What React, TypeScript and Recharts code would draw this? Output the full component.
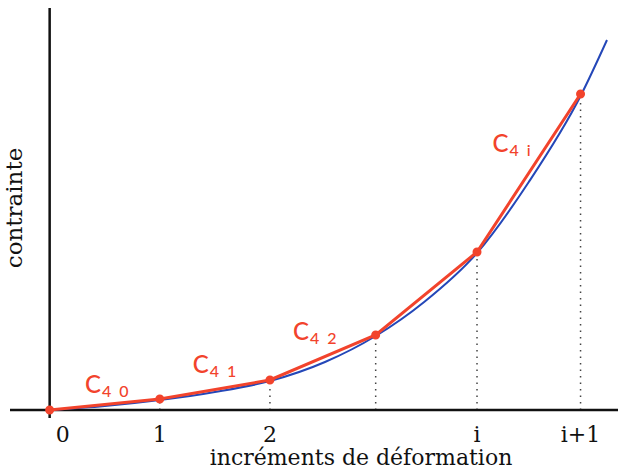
import { LineChart, Line, XAxis, YAxis, ReferenceLine, ReferenceDot } from 'recharts'

// red chord points (increment index -> stress)
const increments = [0, 1, 2, 2.96, 3.88, 4.82]
const stress = [0, 11, 30, 75, 158, 316]

// blue reference curve
const curveX = [0, 0.5, 1, 1.5, 2, 2.5, 2.96, 3.4, 3.88, 4.35, 4.82, 5.06]
const curveY = [0, 4, 10, 18, 29, 48, 74, 108, 157, 228, 314, 370]

const tickValues = [0, 1, 2, 3.88, 4.82]
const tickLabels = ['0', '1', '2', 'i', 'i+1']

// C4 labels placed next to each chord
const noteX = [0.32, 1.3, 2.21, 4.02]
const noteY = [17, 37, 70, 258]
const noteSub = ['0', '1', '2', 'i']

const RED = '#f2432c'
const BLUE = '#2447b8'
const SERIF = '"DejaVu Serif", serif'

const chords = increments.map((x, i) => ({ x, y: stress[i] }))
const curve = curveX.map((x, i) => ({ x, y: curveY[i] }))

const XTick = (props: any) => {
  const { x, y, payload } = props
  const idx = tickValues.indexOf(payload.value)
  return (
    <text
      x={x + (payload.value === 0 ? 13 : 0)}
      y={y}
      dy={16}
      textAnchor="middle"
      fontFamily={SERIF}
      fontSize={22}
      fill="#111"
    >
      {tickLabels[idx]}
    </text>
  )
}

const noteShape = (sub: string) => (props: any) => {
  const { cx, cy } = props
  return (
    <text x={cx} y={cy} fill={RED} fontFamily="Lato, sans-serif" fontWeight={500}>
      <tspan fontSize={24}>C</tspan>
      <tspan fontSize={16} dx={1} dy={4}>4</tspan>
      <tspan fontSize={16} dx={8}>{sub}</tspan>
    </text>
  )
}

export default function App() {
  return (
    <div style={{ position: 'absolute', left: 0, top: 0, background: '#fff' }}>
      <LineChart width={618} height={470} margin={{ top: 8, right: 0, bottom: 0, left: 0 }}>
        <XAxis
          type="number"
          dataKey="x"
          domain={[-0.36, 5.16]}
          allowDataOverflow
          ticks={tickValues}
          tick={<XTick />}
          tickLine={false}
          axisLine={false}
          height={52}
          label={{
            content: (p: any) => (
              <text
                x={p.viewBox.x + p.viewBox.width / 2 + 47}
                y={p.viewBox.y + 47}
                textAnchor="middle"
                fontFamily={SERIF}
                fontSize={22}
                fill="#111"
              >
                incréments de déformation
              </text>
            ),
          }}
        />
        <YAxis
          type="number"
          dataKey="y"
          domain={[-8, 402]}
          allowDataOverflow
          width={10}
          tick={false}
          tickLine={false}
          axisLine={false}
          label={{
            content: () => (
              <text
                x={22}
                y={208}
                transform="rotate(-90 22 208)"
                textAnchor="middle"
                fontFamily={SERIF}
                fontSize={23}
                fill="#111"
              >
                contrainte
              </text>
            ),
          }}
        />
        {chords.slice(1).map(p => (
          <ReferenceLine
            key={p.x}
            segment={[{ x: p.x, y: 0 }, { x: p.x, y: p.y }]}
            stroke="#444"
            strokeWidth={1.5}
            strokeDasharray="1.5 5"
          />
        ))}
        <ReferenceLine y={0} stroke="#111" strokeWidth={2.5} />
        <ReferenceLine x={0} stroke="#111" strokeWidth={2.5} />
        <Line
          data={curve}
          dataKey="y"
          type="monotone"
          stroke={BLUE}
          strokeWidth={2}
          dot={false}
          isAnimationActive={false}
        />
        <Line
          data={chords}
          dataKey="y"
          type="linear"
          stroke={RED}
          strokeWidth={3}
          dot={{ r: 3, fill: RED, stroke: RED }}
          isAnimationActive={false}
        />
        {noteX.map((x, i) => (
          <ReferenceDot key={i} x={x} y={noteY[i]} r={0} shape={noteShape(noteSub[i])} />
        ))}
      </LineChart>
    </div>
  )
}
